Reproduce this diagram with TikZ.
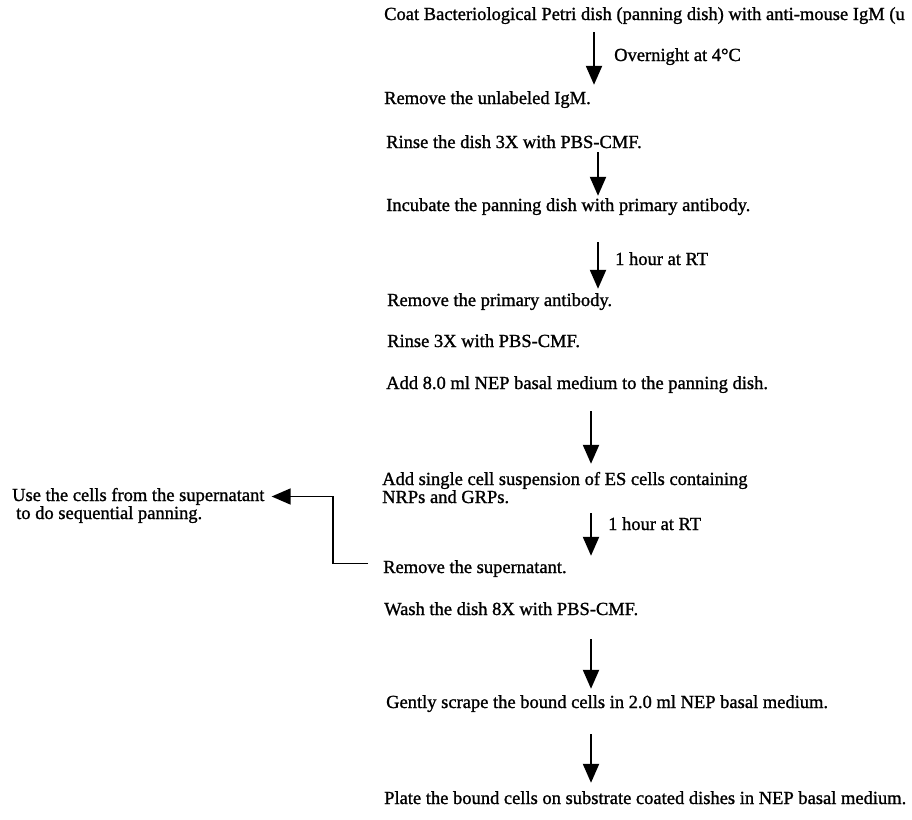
\documentclass[tikz,border=0pt]{standalone}
\usepackage{fontspec}
\setmainfont{Liberation Serif}[FakeBold=1.2]
\usetikzlibrary{arrows.meta}

\tikzset{
  steptxt/.style={anchor=base west,inner sep=0pt,text height=13pt,text depth=4pt},
  flow/.style={-{Triangle[width=16pt,length=19pt]},line width=2.2pt},
}

\begin{document}
\begin{tikzpicture}[x=1pt,y=-1pt,font=\fontsize{18.5}{18}\selectfont]
  \clip (0,0) rectangle (912,819);
  % main column
  \node[steptxt] (coat)    at (384,20)  {Coat Bacteriological Petri dish (panning dish) with anti-mouse IgM (u};
  \node[steptxt] (unlab)   at (384,104) {Remove the unlabeled IgM.};
  \node[steptxt] (rinsea)  at (386,148) {Rinse the dish 3X with PBS-CMF.};
  \node[steptxt] (incub)   at (386,211) {Incubate the panning dish with primary antibody.};
  \node[steptxt] (remprim) at (387,306) {Remove the primary antibody.};
  \node[steptxt] (rinseb)  at (387,347) {Rinse 3X with PBS-CMF.};
  \node[steptxt] (addmed)  at (386,389) {Add 8.0 ml NEP basal medium to the panning dish.};
  \node[steptxt] (cellsa)  at (382,485) {Add single cell suspension of ES cells containing};
  \node[steptxt] (cellsb)  at (382,503) {NRPs and GRPs.};
  \node[steptxt] (super)   at (383,573) {Remove the supernatant.};
  \node[steptxt] (wash)    at (384,615) {Wash the dish 8X with PBS-CMF.};
  \node[steptxt] (scrape)  at (386,708) {Gently scrape the bound cells in 2.0 ml NEP basal medium.};
  \node[steptxt] (plate)   at (384,804) {Plate the bound cells on substrate coated dishes in NEP basal medium.};
  % side branch
  \node[steptxt] (usea) at (12,501) {Use the cells from the supernatant};
  \node[steptxt] (useb) at (16,519) {to do sequential panning.};
  % conditions
  \node[steptxt] (night) at (614,61)  {Overnight at 4\textdegree C};
  \node[steptxt] (houra) at (615,265) {1 hour at RT};
  \node[steptxt] (hourb) at (608,530) {1 hour at RT};

  % arrows
  \coordinate (xa) at (594,0);
  \coordinate (xb) at (598,0);
  \coordinate (xc) at (591,0);
  \coordinate (bend) at (333,0);
  \draw[flow,shorten <=8pt,shorten >=6pt]  (coat.south -| xa)   -- (unlab.north -| xa);
  \draw[flow,shorten <=0pt,shorten >=2pt]  (rinsea.south -| xb) -- (incub.north -| xb);
  \draw[flow,shorten <=27pt,shorten >=4pt] (incub.south -| xb)  -- (remprim.north -| xb);
  \draw[flow,shorten <=18pt,shorten >=8pt] (addmed.south -| xc) -- (cellsa.north -| xc);
  \draw[flow,shorten <=6pt,shorten >=4pt]  (cellsb.south -| xc) -- (super.north -| xc);
  \draw[flow,shorten <=20pt,shorten >=6pt] (wash.south -| xc)   -- (scrape.north -| xc);
  \draw[flow,shorten <=22pt,shorten >=8pt] (scrape.south -| xc) -- (plate.north -| xc);
  \draw[flow,line width=1.6pt,shorten >=7pt]
    ([xshift=-15pt,yshift=5pt]super.west) -- ([yshift=5pt]super.west -| bend) |- (usea.east);
\end{tikzpicture}
\end{document}
